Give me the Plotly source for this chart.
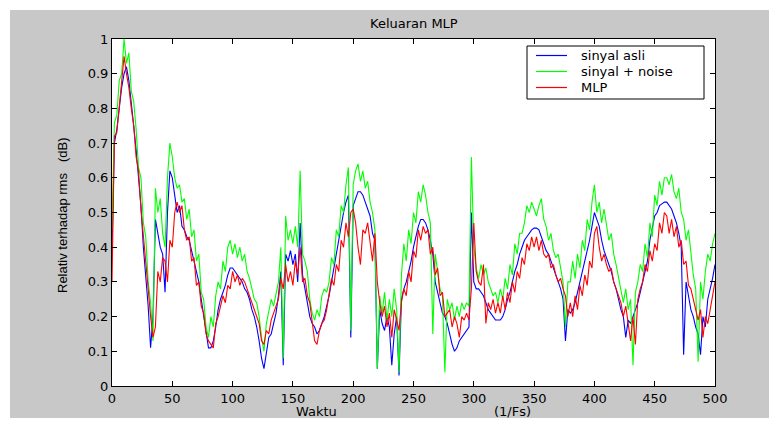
import plotly.graph_objects as go

waktu = list(range(0, 501, 2))

sinyal_asli = [
    0.40, 0.70, 0.74, 0.80, 0.86, 0.90, 0.92, 0.88, 0.82, 0.75,
    0.68, 0.60, 0.52, 0.40, 0.32, 0.23, 0.11, 0.20, 0.48, 0.44,
    0.40, 0.38, 0.27, 0.50, 0.62, 0.60, 0.55, 0.50, 0.52, 0.46,
    0.45, 0.43, 0.42, 0.39, 0.36, 0.33, 0.30, 0.25, 0.20, 0.15,
    0.11, 0.11, 0.13, 0.17, 0.22, 0.25, 0.27, 0.29, 0.32, 0.34,
    0.34, 0.33, 0.32, 0.31, 0.30, 0.28, 0.27, 0.25, 0.22, 0.20,
    0.17, 0.13, 0.08, 0.05, 0.10, 0.14, 0.15, 0.18, 0.21, 0.26,
    0.33, 0.06, 0.38, 0.36, 0.39, 0.35, 0.38, 0.30, 0.47, 0.32,
    0.28, 0.25, 0.20, 0.18, 0.17, 0.15, 0.16, 0.18, 0.20, 0.23,
    0.26, 0.30, 0.34, 0.39, 0.43, 0.47, 0.50, 0.53, 0.55, 0.14,
    0.52, 0.54, 0.56, 0.56, 0.55, 0.53, 0.51, 0.49, 0.44, 0.42,
    0.05, 0.22, 0.18, 0.16, 0.20, 0.17, 0.06, 0.15, 0.20, 0.03,
    0.25, 0.28, 0.30, 0.33, 0.36, 0.40, 0.43, 0.46, 0.48, 0.48,
    0.47, 0.45, 0.42, 0.38, 0.30, 0.27, 0.24, 0.21, 0.20, 0.18,
    0.15, 0.12, 0.10, 0.11, 0.13, 0.14, 0.15, 0.16, 0.17, 0.50,
    0.30, 0.28, 0.28, 0.27, 0.26, 0.24, 0.22, 0.21, 0.20, 0.19,
    0.19, 0.19, 0.20, 0.22, 0.25, 0.27, 0.30, 0.33, 0.35, 0.38,
    0.40, 0.42, 0.43, 0.44, 0.45, 0.455, 0.455, 0.45, 0.43, 0.41,
    0.39, 0.38, 0.36, 0.34, 0.32, 0.30, 0.28, 0.25, 0.13, 0.22,
    0.21, 0.22, 0.24, 0.27, 0.30, 0.33, 0.36, 0.39, 0.42, 0.46,
    0.50, 0.48, 0.46, 0.42, 0.39, 0.37, 0.35, 0.33, 0.30, 0.28,
    0.25, 0.22, 0.20, 0.14, 0.19, 0.18, 0.20, 0.22, 0.24, 0.27,
    0.30, 0.33, 0.36, 0.42, 0.46, 0.49, 0.50, 0.52, 0.525, 0.53,
    0.53, 0.52, 0.51, 0.49, 0.47, 0.44, 0.40, 0.09, 0.30, 0.26,
    0.22, 0.20, 0.17, 0.15, 0.09, 0.20, 0.17, 0.25, 0.28, 0.31,
    0.35,
]

sinyal_noise = [
    0.45, 0.76, 0.78, 0.88, 0.90, 1.00, 0.93, 0.96, 0.85, 0.82,
    0.74, 0.63, 0.60, 0.47, 0.43, 0.30, 0.24, 0.13, 0.57, 0.50,
    0.54, 0.44, 0.40, 0.60, 0.70, 0.66, 0.60, 0.57, 0.58, 0.53,
    0.54, 0.48, 0.51, 0.43, 0.45, 0.36, 0.38, 0.27, 0.25, 0.17,
    0.14, 0.20, 0.17, 0.26, 0.30, 0.28, 0.36, 0.33, 0.40, 0.42,
    0.38, 0.41, 0.37, 0.40, 0.36, 0.38, 0.33, 0.31, 0.28, 0.25,
    0.24, 0.20, 0.14, 0.10, 0.18, 0.22, 0.25, 0.23, 0.27, 0.30,
    0.40, 0.08, 0.49, 0.42, 0.45, 0.41, 0.46, 0.40, 0.62, 0.38,
    0.36, 0.33, 0.25, 0.21, 0.19, 0.22, 0.20, 0.26, 0.28, 0.27,
    0.30, 0.37, 0.35, 0.45, 0.43, 0.52, 0.50, 0.58, 0.63, 0.16,
    0.58, 0.62, 0.64, 0.59, 0.62, 0.57, 0.59, 0.53, 0.50, 0.45,
    0.05, 0.26, 0.21, 0.27, 0.19, 0.25, 0.20, 0.28, 0.22, 0.04,
    0.32, 0.41, 0.36, 0.45, 0.41, 0.50, 0.47, 0.56, 0.53, 0.58,
    0.55, 0.50, 0.47, 0.15, 0.38, 0.33, 0.28, 0.26, 0.04, 0.25,
    0.22, 0.24, 0.19, 0.23, 0.20, 0.24, 0.22, 0.24, 0.23, 0.66,
    0.40, 0.34, 0.31, 0.35, 0.32, 0.34, 0.30, 0.28, 0.26, 0.27,
    0.24, 0.28, 0.25, 0.31, 0.28, 0.35, 0.32, 0.41, 0.38, 0.44,
    0.44, 0.47, 0.52, 0.50, 0.53, 0.51, 0.49, 0.52, 0.54, 0.48,
    0.46, 0.42, 0.44, 0.39, 0.37, 0.38, 0.34, 0.30, 0.17, 0.30,
    0.30, 0.36, 0.31, 0.38, 0.34, 0.42, 0.39, 0.48, 0.45, 0.53,
    0.58, 0.50, 0.53, 0.47, 0.51, 0.46, 0.42, 0.44, 0.38, 0.35,
    0.31, 0.27, 0.24, 0.28, 0.22, 0.25, 0.06, 0.27, 0.30, 0.35,
    0.33, 0.41, 0.37, 0.47, 0.43, 0.55, 0.52, 0.59, 0.55, 0.60,
    0.60, 0.58, 0.61, 0.56, 0.54, 0.57, 0.50, 0.48, 0.42, 0.45,
    0.38, 0.32, 0.28, 0.07, 0.30, 0.25, 0.33, 0.38, 0.36, 0.41,
    0.44,
]

mlp = [
    0.30, 0.72, 0.73, 0.80, 0.86, 0.95, 0.90, 0.86, 0.80, 0.75,
    0.66, 0.62, 0.51, 0.44, 0.36, 0.28, 0.20, 0.14, 0.17, 0.33,
    0.30, 0.37, 0.36, 0.30, 0.42, 0.40, 0.50, 0.53, 0.50, 0.52,
    0.45, 0.42, 0.43, 0.36, 0.37, 0.29, 0.30, 0.23, 0.21, 0.15,
    0.13, 0.12, 0.11, 0.18, 0.20, 0.23, 0.26, 0.24, 0.29, 0.28,
    0.33, 0.30, 0.32, 0.29, 0.31, 0.30, 0.28, 0.26, 0.24, 0.22,
    0.20, 0.18, 0.13, 0.12, 0.16, 0.15, 0.19, 0.21, 0.23, 0.25,
    0.31, 0.28, 0.35, 0.30, 0.33, 0.29, 0.36, 0.32, 0.40, 0.30,
    0.31, 0.26, 0.24, 0.18, 0.13, 0.12, 0.16, 0.18, 0.19, 0.22,
    0.27, 0.31, 0.29, 0.35, 0.33, 0.42, 0.40, 0.47, 0.43, 0.50,
    0.51, 0.47, 0.40, 0.35, 0.45, 0.44, 0.47, 0.42, 0.36, 0.44,
    0.30, 0.24, 0.20, 0.23, 0.17, 0.21, 0.14, 0.22, 0.19, 0.16,
    0.24, 0.28, 0.26, 0.33, 0.30, 0.39, 0.37, 0.45, 0.42, 0.46,
    0.44, 0.45, 0.38, 0.40, 0.32, 0.34, 0.26, 0.27, 0.20, 0.21,
    0.22, 0.17, 0.20, 0.18, 0.14, 0.20, 0.19, 0.21, 0.19, 0.28,
    0.47, 0.33, 0.30, 0.29, 0.35, 0.18, 0.24, 0.22, 0.25, 0.21,
    0.24, 0.21, 0.26, 0.22, 0.27, 0.24, 0.30, 0.27, 0.33, 0.31,
    0.37, 0.35, 0.41, 0.39, 0.43, 0.40, 0.43, 0.39, 0.42, 0.38,
    0.37, 0.38, 0.34, 0.35, 0.32, 0.30, 0.31, 0.28, 0.26, 0.20,
    0.24, 0.20, 0.26, 0.22, 0.29, 0.26, 0.32, 0.29, 0.36, 0.34,
    0.44, 0.46, 0.40, 0.36, 0.38, 0.35, 0.33, 0.34, 0.30, 0.28,
    0.26, 0.24, 0.20, 0.23, 0.18, 0.13, 0.20, 0.12, 0.25, 0.28,
    0.30, 0.35, 0.33, 0.39, 0.36, 0.41, 0.39, 0.47, 0.44, 0.50,
    0.49, 0.44, 0.48, 0.43, 0.46, 0.40, 0.42, 0.35, 0.36, 0.29,
    0.28, 0.25, 0.22, 0.19, 0.22, 0.14, 0.20, 0.18, 0.22, 0.26,
    0.30,
]

series_names = ["sinyal asli", "sinyal + noise", "MLP"]
series_colors = ["#0000ff", "#00ff00", "#ff0000"]

# The page body has an 8 px margin; work in page pixels and shift by it.
OFF = 8
W, H = 770 - OFF, 418 - OFF
L, R, T, B = 112 - OFF, 715 - OFF, 39 - OFF, 386 - OFF
pw, ph = R - L, B - T

def px_x(p):
    return (p - OFF - L) / pw

def px_y(p):
    return (B - (p - OFF)) / ph

fig = go.Figure()
for name, ys, col in zip(series_names, [sinyal_asli, sinyal_noise, mlp], series_colors):
    fig.add_trace(go.Scatter(x=waktu, y=ys, mode="lines", name=name,
                             line=dict(color=col, width=1.1), showlegend=False))

axis_common = dict(showline=True, linecolor="black", linewidth=1, mirror="ticks",
                   ticks="inside", ticklen=5, tickcolor="black", showgrid=False,
                   zeroline=False, tickfont=dict(family="DejaVu Sans", size=13, color="black"))

fig.update_xaxes(range=[0, 500], dtick=50, tick0=0, **axis_common)
fig.update_yaxes(range=[0, 1], dtick=0.1, tick0=0, **axis_common)

font_main = dict(family="DejaVu Sans", size=13, color="black")

shapes = [
    dict(type="rect", xref="paper", yref="paper", layer="below",
         x0=px_x(10), x1=px_x(770), y0=px_y(418), y1=px_y(10),
         fillcolor="#c8c8c8", line=dict(width=0)),
    dict(type="rect", xref="paper", yref="paper", layer="below",
         x0=0, x1=1, y0=0, y1=1, fillcolor="white", line=dict(width=0)),
    # legend box
    dict(type="rect", xref="paper", yref="paper", layer="above",
         x0=px_x(527), x1=px_x(704), y0=px_y(99), y1=px_y(46),
         fillcolor="white", line=dict(color="black", width=1)),
]
annotations = [
    dict(text="Keluaran MLP", xref="paper", yref="paper", x=0.5, y=px_y(23),
         showarrow=False, xanchor="center", yanchor="middle", font=font_main),
    dict(text="Waktu", xref="paper", yref="paper", x=px_x(316), y=px_y(411),
         showarrow=False, xanchor="center", yanchor="middle", font=font_main),
    dict(text="(1/Fs)", xref="paper", yref="paper", x=px_x(512), y=px_y(411),
         showarrow=False, xanchor="center", yanchor="middle", font=font_main),
    dict(text="Relativ terhadap rms", xref="paper", yref="paper", x=px_x(62), y=px_y(233),
         showarrow=False, xanchor="center", yanchor="middle", textangle=-90,
         font=dict(family="Liberation Sans", size=13, color="black")),
    dict(text="(dB)", xref="paper", yref="paper", x=px_x(62), y=px_y(150),
         showarrow=False, xanchor="center", yanchor="middle", textangle=-90,
         font=dict(family="Liberation Sans", size=13, color="black")),
]
legend_rows = [55.5, 71.5, 87.5]
for name, col, yy in zip(series_names, series_colors, legend_rows):
    shapes.append(dict(type="line", xref="paper", yref="paper", layer="above",
                       x0=px_x(536), x1=px_x(567), y0=px_y(yy), y1=px_y(yy),
                       line=dict(color=col, width=1.2)))
    annotations.append(dict(text=name, xref="paper", yref="paper", x=px_x(579), y=px_y(yy),
                            showarrow=False, xanchor="left", yanchor="middle",
                            font=font_main))

fig.update_layout(
    width=W, height=H,
    margin=dict(l=L, r=W - R, t=T, b=H - B, pad=0),
    paper_bgcolor="white", plot_bgcolor="white",
    showlegend=False,
    shapes=shapes,
    annotations=annotations,
)

fig.write_html("out.html")
